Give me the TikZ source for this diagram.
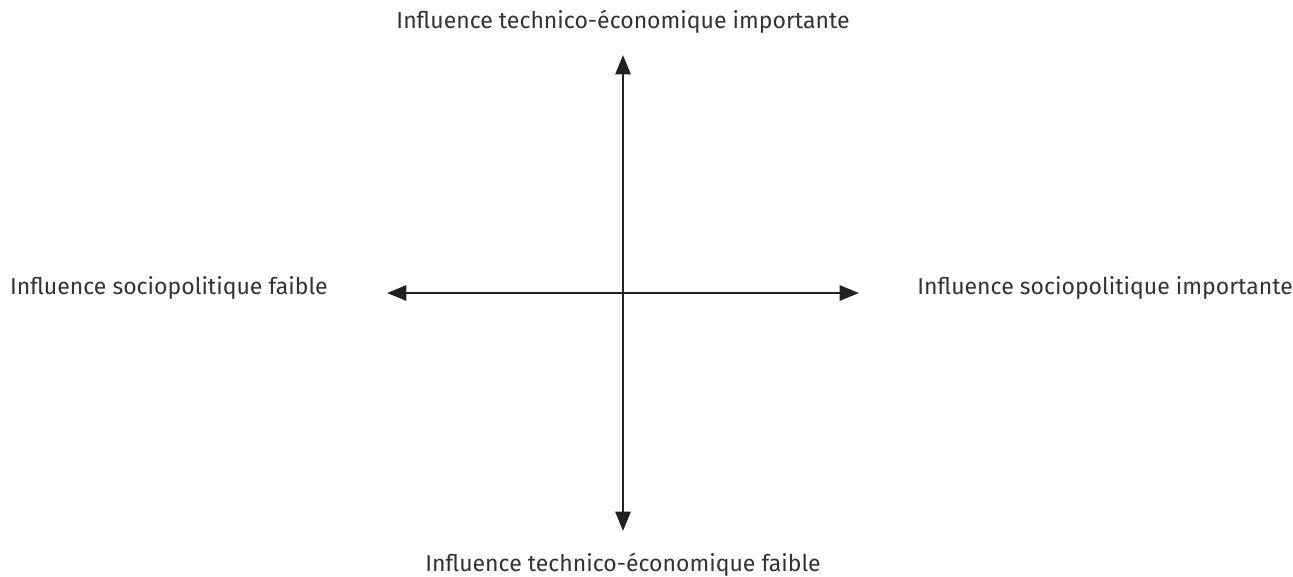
\documentclass[tikz,border=0pt]{standalone}
\usepackage{fontspec}
\setmainfont{Fira Sans}
\usetikzlibrary{arrows.meta}
\definecolor{axisgray}{HTML}{231F20}
\definecolor{labelgray}{HTML}{333333}
\tikzset{
  axis/.style={line width=1.6pt,draw=axisgray,{Triangle[length=11pt,width=8.5pt]}-{Triangle[length=11pt,width=8.5pt]}},
  axislabel/.style={text=labelgray,font=\fontsize{13.1}{15}\selectfont,inner sep=0pt}
}
\begin{document}
\begin{tikzpicture}[x=0.02cm,y=-0.02cm]

\useasboundingbox (0,0) rectangle (1293,576);

\coordinate (north) at (623,55);
\coordinate (south) at (623,531);
\coordinate (west) at (387,293);
\coordinate (east) at (859,293);

\draw[axis] (south) -- (north);
\draw[axis] (west) -- (east);

\node[axislabel] (tech high) at (623,22) {Influence technico-économique importante};
\node[axislabel] (tech low) at (623,565) {Influence technico-économique faible};
\node[axislabel,anchor=east] (socio low) at (328,288) {Influence sociopolitique faible};
\node[axislabel,anchor=west] (socio high) at (917,288) {Influence sociopolitique importante};

\end{tikzpicture}
\end{document}
